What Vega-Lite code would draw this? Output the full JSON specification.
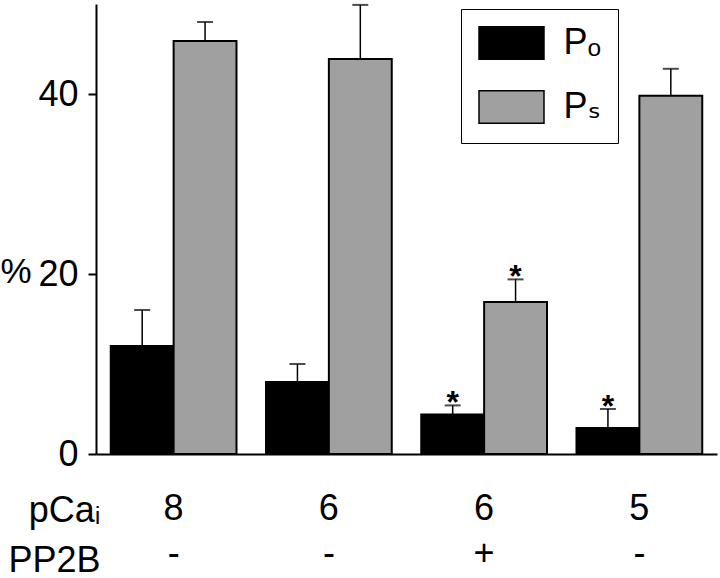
{
  "$schema": "https://vega.github.io/schema/vega-lite/v6.json",
  "autosize": "none",
  "width": 621,
  "height": 450,
  "padding": {"left": 96, "top": 4, "right": 3, "bottom": 124},
  "background": "white",
  "config": {
    "view": {"stroke": null},
    "font": "Liberation Sans, DejaVu Sans, sans-serif",
    "axis": {"domainColor": "black", "tickColor": "black", "labelColor": "black", "titleColor": "black", "grid": false}
  },
  "data": {
    "values": [
      {"g": "8|-", "s": "Pₒ", "v": 12, "e": 16, "sig": ""},
      {"g": "8|-", "s": "Pₛ", "v": 45.9, "e": 48, "sig": ""},
      {"g": "6|-", "s": "Pₒ", "v": 8, "e": 10, "sig": ""},
      {"g": "6|-", "s": "Pₛ", "v": 43.9, "e": 49.9, "sig": ""},
      {"g": "6|+", "s": "Pₒ", "v": 4.4, "e": 5.4, "sig": "*"},
      {"g": "6|+", "s": "Pₛ", "v": 16.9, "e": 19.4, "sig": "*"},
      {"g": "5|-", "s": "Pₒ", "v": 2.9, "e": 5.0, "sig": "*"},
      {"g": "5|-", "s": "Pₛ", "v": 39.8, "e": 42.8, "sig": ""}
    ]
  },
  "encoding": {
    "x": {
      "field": "g", "type": "nominal", "sort": ["8|-", "6|-", "6|+", "5|-"],
      "scale": {"paddingInner": 0.19, "paddingOuter": 0.095},
      "axis": {
        "orient": "bottom", "ticks": false, "domainWidth": 2, "labelAngle": 0,
        "labelExpr": "split(datum.label, '|')",
        "labelFontSize": 36, "labelLineHeight": 45, "labelPadding": 37,
        "title": ["pCaᵢ", "PP2B"], "titleFontSize": 36, "titleFontWeight": "normal",
        "titleAlign": "right", "titleAnchor": null, "titleX": 4, "titleY": 67,
        "titleBaseline": "alphabetic", "titleLineHeight": 50
      }
    },
    "xOffset": {"field": "s", "type": "nominal", "scale": {"paddingInner": 0, "paddingOuter": 0}},
    "y": {
      "field": "v", "type": "quantitative",
      "scale": {"domain": [0, 50], "nice": false},
      "axis": {
        "values": [0, 20, 40], "tickSize": 8, "tickWidth": 2, "domainWidth": 2,
        "labelFontSize": 36, "labelPadding": 10,
        "title": "%", "titleAngle": 0, "titleFontSize": 35, "titleFontWeight": "normal",
        "titleAlign": "left", "titleBaseline": "top", "titleAnchor": null,
        "titleX": -96, "titleY": 250
      }
    }
  },
  "layer": [
    {
      "mark": {"type": "bar", "stroke": "black", "strokeWidth": 2},
      "encoding": {
        "color": {
          "field": "s", "type": "nominal",
          "scale": {"domain": ["Pₒ", "Pₛ"], "range": ["#000000", "#a0a0a0"]},
          "legend": {
            "orient": "none", "legendX": 365, "legendY": 5, "title": null,
            "symbolType": "M-2,-1H2V1H-2Z", "symbolSize": 1056,
            "symbolOffset": 16.5,
            "symbolStrokeColor": "black", "symbolStrokeWidth": 1.5,
            "labelFontSize": 36, "labelColor": "black", "labelOffset": 34,
            "padding": 16, "rowPadding": 24,
            "strokeColor": "black", "fillColor": "white",
            "labelFont": "Liberation Sans, DejaVu Sans, sans-serif"
          }
        }
      }
    },
    {
      "mark": {"type": "rule", "color": "black", "strokeWidth": 1.5},
      "encoding": {"y2": {"field": "e"}}
    },
    {
      "mark": {"type": "tick", "color": "black", "size": 16, "thickness": 2, "orient": "horizontal"},
      "encoding": {"y": {"field": "e", "type": "quantitative"}}
    },
    {
      "mark": {"type": "text", "fontSize": 32, "fontWeight": "bold", "baseline": "alphabetic", "dy": 8, "color": "black"},
      "encoding": {"y": {"field": "e", "type": "quantitative"}, "text": {"field": "sig"}}
    }
  ]
}
